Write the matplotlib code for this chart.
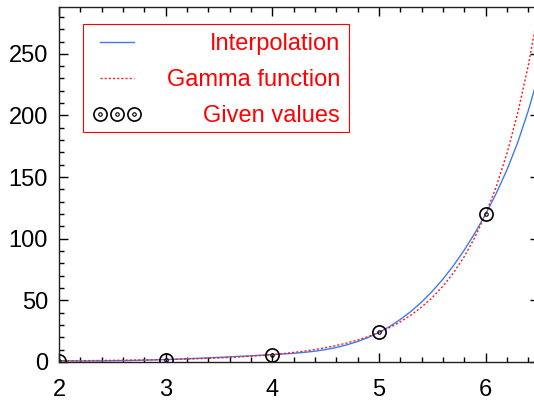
import matplotlib
matplotlib.use("Agg")
import matplotlib.pyplot as plt
from matplotlib.ticker import MultipleLocator
from matplotlib.legend_handler import HandlerTuple
from matplotlib.patches import Rectangle

# ---- data ----
x_curve = [2.0, 2.1, 2.2, 2.3, 2.4, 2.5, 2.6, 2.7, 2.8, 2.9,
           3.0, 3.1, 3.2, 3.3, 3.4, 3.5, 3.6, 3.7, 3.8, 3.9,
           4.0, 4.1, 4.2, 4.3, 4.4, 4.5, 4.6, 4.7, 4.8, 4.9,
           5.0, 5.1, 5.2, 5.3, 5.4, 5.5, 5.6, 5.7, 5.8, 5.9,
           6.0, 6.1, 6.2, 6.3, 6.4, 6.5]
interp_vals = [1.00, 0.90, 0.85, 0.85, 0.90, 0.99, 1.11, 1.28, 1.49, 1.73,
               2.00, 2.30, 2.63, 2.99, 3.37, 3.77, 4.18, 4.62, 5.07, 5.53,
               6.00, 6.49, 7.07, 7.81, 8.78, 10.08, 11.77, 13.93, 16.63, 19.97,
               24.0, 28.8, 34.5, 41.1, 48.7, 57.4, 67.3, 78.4, 90.9, 104.7,
               120.0, 137.0, 156.0, 178.0, 204.0, 234.0]
gamma_vals = [1.000, 1.047, 1.102, 1.167, 1.242, 1.329, 1.430, 1.545, 1.677, 1.827,
              2.000, 2.198, 2.424, 2.683, 2.981, 3.323, 3.717, 4.171, 4.694, 5.300,
              6.000, 6.813, 7.757, 8.855, 10.14, 11.63, 13.38, 15.43, 17.84, 20.67,
              24.00, 27.93, 32.58, 38.08, 44.60, 52.34, 61.55, 72.53, 85.62, 101.3,
              120.0, 142.5, 169.4, 201.8, 240.8, 287.9]
x_given = [2, 3, 4, 5, 6]
y_given = [1, 2, 6, 24, 120]
labels = ["Interpolation", "Gamma function", "Given values"]

plt.rcParams['font.family'] = ['Liberation Sans', 'DejaVu Sans']

W, H = 534, 403
fig = plt.figure(figsize=(W / 100, H / 100), dpi=100)
ax = fig.add_axes([59 / W, (H - 362) / H, 480 / W, 355 / H])

blue = '#3c7cf0'
red = '#ff1a1a'

l1, = ax.plot(x_curve, interp_vals, color=blue, lw=1.0)
l2, = ax.plot(x_curve, gamma_vals, color=red, lw=1.0, linestyle=(0, (1.5, 1.5)))
c1, = ax.plot(x_given, y_given, linestyle='none', marker='o', ms=9.5,
              mfc='none', mec='black', mew=1.2)
c2, = ax.plot(x_given, y_given, linestyle='none', marker='o', ms=2.5,
              mfc='none', mec='black', mew=0.8)

ax.set_xlim(2, 6.5)
ax.set_ylim(0, 288)
ax.xaxis.set_major_locator(MultipleLocator(1))
ax.xaxis.set_minor_locator(MultipleLocator(0.2))
ax.yaxis.set_major_locator(MultipleLocator(50))
ax.yaxis.set_minor_locator(MultipleLocator(10))
ax.tick_params(which='both', direction='in', top=True, right=True,
               labelsize=17, colors='black')
ax.tick_params(which='major', length=6.5, width=1.0)
ax.tick_params(which='minor', length=3.5, width=1.0)
ax.tick_params(axis='x', which='major', pad=12)
ax.tick_params(axis='y', which='major', pad=8)
for s in ax.spines.values():
    s.set_linewidth(1.0)
    s.set_color('#222222')

leg = ax.legend([l1, l2, (c1, c2)], labels,
                handler_map={tuple: HandlerTuple(ndivide=1, pad=0)},
                loc='upper left', bbox_to_anchor=(83 / W, 1 - 24 / H),
                bbox_transform=fig.transFigure, borderaxespad=0,
                fontsize=17, numpoints=3, handlelength=2.08,
                handletextpad=1.06, borderpad=0.4, labelspacing=0.59,
                frameon=False)

# right-align legend labels and draw the frame
fig.canvas.draw()
renderer = fig.canvas.get_renderer()
lb = leg.get_window_extent(renderer)
exts = [t.get_window_extent(renderer) for t in leg.get_texts()]
right = max(e.x1 for e in exts)
centers = []
for t, e in zip(leg.get_texts(), exts):
    t.set_alpha(0)
    yc = (e.y0 + e.y1) / 2
    centers.append(yc)
    fig.text(right, yc, t.get_text(), transform=None,
             ha='right', va='center', color='red', fontsize=17, zorder=10)
top = lb.y1
gap = top - centers[0]
bottom = centers[-1] - gap + 5
fig.add_artist(Rectangle((lb.x0, bottom), lb.x1 - lb.x0, top - bottom,
                         transform=None, fill=False, edgecolor='red',
                         linewidth=0.8, zorder=9))

fig.savefig('out.png', dpi=100)
